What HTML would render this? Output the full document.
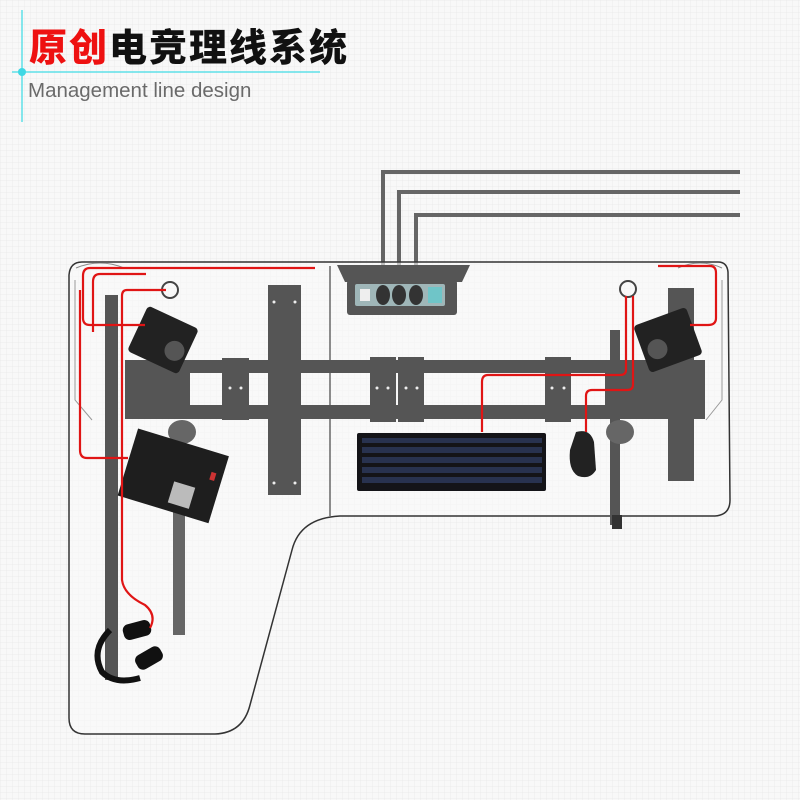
<!DOCTYPE html>
<html><head><meta charset="utf-8"><style>
body{margin:0;width:800px;height:800px;overflow:hidden;background:#f6f6f6;}
svg{display:block}
</style></head><body>
<svg width="800" height="800" viewBox="0 0 800 800" xmlns="http://www.w3.org/2000/svg">
<defs>
<pattern id="g" width="6" height="6" patternUnits="userSpaceOnUse"><path d="M6 0H0V6" fill="none" stroke="#ebebeb" stroke-width="1"/></pattern>
</defs>
<rect width="800" height="800" fill="#f8f8f8"/>
<rect width="800" height="800" fill="url(#g)"/>
<!-- header -->
<line x1="22" y1="10" x2="22" y2="122" stroke="#5ee0e8" stroke-width="1.5"/>
<line x1="12" y1="72" x2="320" y2="72" stroke="#5ee0e8" stroke-width="1.5"/>
<circle cx="22" cy="72" r="4" fill="#3fd8e4"/>
<text x="29" y="61" font-family="'Noto Sans CJK SC',sans-serif" font-weight="900" font-size="38" letter-spacing="2" fill="#ee1111">原创<tspan fill="#111">电竞理线系统</tspan></text>
<text x="28" y="97" font-family="'Liberation Sans',sans-serif" font-size="20.5" fill="#6a6a6a">Management line design</text>

<!-- cables to power strip -->
<g fill="none" stroke="#666" stroke-width="4">
<path d="M383 265V172H740"/><path d="M399 265V192H740"/><path d="M416 265V215H740"/>
</g>

<!-- desk outline -->
<path d="M82 262H718Q727 262 728 272L730 500Q730 515 715 516H340Q300 518 292 550L250 705Q243 733 215 734H85Q69 734 69 718V275Q70 262 82 262Z" fill="#fafafa" fill-opacity="0.6" stroke="#333" stroke-width="1.5"/>
<path d="M76 268Q100 258 124 268" fill="none" stroke="#888"/>
<path d="M678 268Q700 258 722 268" fill="none" stroke="#888"/>
<line x1="330" y1="266" x2="330" y2="516" stroke="#444" stroke-width="1.2"/>
<path d="M75 280V400L92 420" fill="none" stroke="#999"/>
<path d="M722 280V400L706 420" fill="none" stroke="#999"/>

<!-- frame -->
<g fill="#555">
<rect x="105" y="295" width="13" height="385"/>
<rect x="173" y="430" width="12" height="205" fill="#666"/>
<rect x="125" y="360" width="580" height="13"/>
<rect x="125" y="405" width="580" height="14"/>
<rect x="125" y="360" width="65" height="59"/>
<rect x="222" y="358" width="27" height="62"/>
<rect x="268" y="285" width="33" height="210"/>
<rect x="370" y="357" width="26" height="65"/>
<rect x="398" y="357" width="26" height="65"/>
<rect x="545" y="357" width="26" height="65"/>
<rect x="605" y="360" width="100" height="59"/>
<rect x="668" y="288" width="26" height="193"/>
<rect x="610" y="330" width="10" height="195"/>
<rect x="612" y="515" width="10" height="14" fill="#333"/>
<ellipse cx="182" cy="432" rx="14" ry="12" fill="#666"/>
<ellipse cx="620" cy="432" rx="14" ry="12" fill="#666"/>
</g>
<g fill="#eee">
<circle cx="274" cy="302" r="1.5"/><circle cx="295" cy="302" r="1.5"/><circle cx="274" cy="483" r="1.5"/><circle cx="295" cy="483" r="1.5"/>
<circle cx="230" cy="388" r="1.5"/><circle cx="241" cy="388" r="1.5"/>
<circle cx="377" cy="388" r="1.5"/><circle cx="388" cy="388" r="1.5"/><circle cx="406" cy="388" r="1.5"/><circle cx="417" cy="388" r="1.5"/>
<circle cx="552" cy="388" r="1.5"/><circle cx="564" cy="388" r="1.5"/>
</g>

<!-- power strip -->
<path d="M337 265H470L462 282H345Z" fill="#555"/>
<rect x="347" y="280" width="110" height="35" rx="3" fill="#555"/>
<rect x="355" y="284" width="90" height="22" rx="2" fill="#9fb6b8"/>
<rect x="360" y="289" width="10" height="12" fill="#eee"/>
<rect x="428" y="287" width="14" height="16" fill="#6fc5c8"/>
<g fill="#333"><ellipse cx="383" cy="295" rx="7" ry="10"/><ellipse cx="399" cy="295" rx="7" ry="10"/><ellipse cx="416" cy="295" rx="7" ry="10"/></g>

<!-- grommets -->
<circle cx="170" cy="290" r="8" fill="none" stroke="#444" stroke-width="2"/>
<circle cx="628" cy="289" r="8" fill="none" stroke="#444" stroke-width="2"/>

<!-- speakers -->
<g transform="rotate(25 163 340)"><rect x="135" y="315" width="56" height="50" rx="4" fill="#222"/><circle cx="178" cy="345" r="10" fill="#555"/></g>
<g transform="rotate(-20 668 340)"><rect x="640" y="315" width="56" height="50" rx="4" fill="#222"/><circle cx="655" cy="345" r="10" fill="#555"/></g>

<!-- mousepad -->
<g transform="rotate(17 170 478)"><rect x="125" y="440" width="95" height="70" fill="#1e1e1e"/><rect x="175" y="480" width="22" height="22" fill="#bbb"/><rect x="208" y="460" width="5" height="8" fill="#c33"/></g>

<!-- keyboard -->
<rect x="357" y="433" width="189" height="58" rx="2" fill="#141418"/>
<g fill="#28324f">
<rect x="362" y="438" width="180" height="5"/><rect x="362" y="447" width="180" height="6"/><rect x="362" y="457" width="180" height="6"/><rect x="362" y="467" width="180" height="6"/><rect x="362" y="477" width="180" height="6"/>
</g>

<!-- mouse -->
<path d="M576 432Q590 428 594 442L596 470Q590 480 578 476Q568 470 570 450Z" fill="#222"/>

<!-- headphones -->
<path d="M110 630Q90 650 102 672Q115 685 140 678" fill="none" stroke="#111" stroke-width="6"/>
<rect x="123" y="622" width="28" height="16" rx="6" fill="#111" transform="rotate(-15 137 630)"/>
<rect x="135" y="650" width="28" height="16" rx="6" fill="#111" transform="rotate(-30 149 658)"/>

<!-- red cables -->
<g fill="none" stroke="#e01515" stroke-width="2.2">
<path d="M315 268H90Q83 268 83 276V318Q83 325 90 325H145"/>
<path d="M146 274H100Q93 274 93 282V332"/>
<path d="M166 290H127Q122 290 122 296V580Q124 595 145 605Q157 615 150 628"/>
<path d="M80 290V450Q80 458 87 458H128"/>
<path d="M658 266H710Q716 266 716 273V318Q716 325 708 325H690"/>
<path d="M626 296V370Q626 375 620 375H488Q482 375 482 382V432"/>
<path d="M633 296V385Q633 390 627 390H592Q586 390 586 396V432"/>
</g>
</svg>
</body></html>
